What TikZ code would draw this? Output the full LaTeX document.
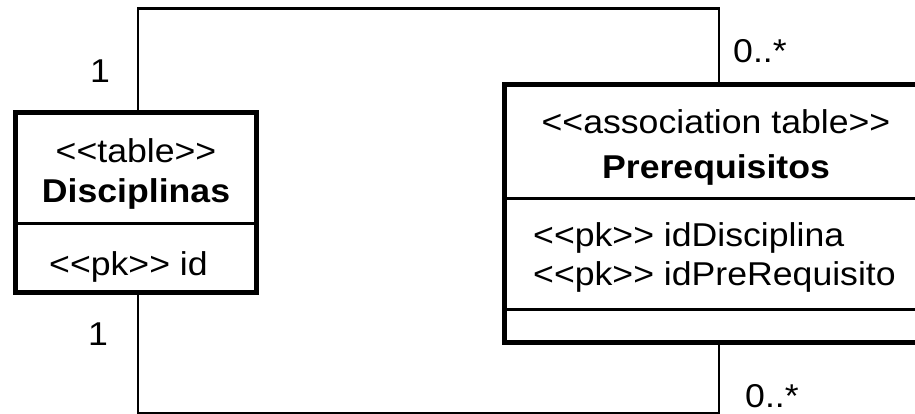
\documentclass[tikz,border=0pt]{standalone}
\usepackage{fontspec}
\setmainfont{Liberation Sans}[FakeStretch=1.08]
\newcommand\lqq{<\kern0pt<}
\newcommand\rqq{>\kern0pt>}
\begin{document}
\begin{tikzpicture}[x=1pt,y=-1pt,
  box/.style={draw, line width=5pt, rectangle, inner sep=0pt},
  divline/.style={line width=3pt},
  conn/.style={line width=2.5pt},
  txt/.style={font=\fontsize{33}{40}\selectfont, inner sep=0pt},
  btxt/.style={font=\fontsize{33}{40}\selectfont\bfseries, inner sep=0pt}]
\useasboundingbox (0,0) rectangle (915,413);
\clip (0,0) rectangle (915,413);
% boxes
\node[box, minimum width=241pt, minimum height=180pt] (disc) at (136,202.5) {};
\node[box, minimum width=423pt, minimum height=258pt] (prer) at (716,213.5) {};
% dividers
\draw[divline] (disc.west |- 0,223.5) -- (disc.east |- 0,223.5);
\draw[divline] (prer.west |- 0,198) -- (prer.east |- 0,198);
\draw[divline] (prer.west |- 0,309) -- (prer.east |- 0,309);
% texts of Disciplinas
\node[txt, anchor=base] (dst) at (136,162) {\lqq table\rqq};
\node[btxt, anchor=base] (dname) at (136,202) {Disciplinas};
\node[txt, anchor=base west] (dpk) at (49,275) {\lqq pk\rqq{} id};
% texts of Prerequisitos
\node[txt, anchor=base] (pst) at (716,133) {\lqq association table\rqq};
\node[btxt, anchor=base] (pname) at (716,178) {Prerequisitos};
\node[txt, anchor=base west] (ppk1) at (533,246) {\lqq pk\rqq{} idDisciplina};
\node[txt, anchor=base west] (ppk2) at (533,285) {\lqq pk\rqq{} idPreRequisito};
% connectors
\draw[conn] ([xshift=2pt]disc.north) -- ++(0,-101.5) -| ([xshift=3pt]prer.north);
\draw[conn] ([xshift=2pt]disc.south) -- ++(0,118.5) -| ([xshift=3pt]prer.south);
% multiplicities
\node[txt, anchor=base] (m1) at (100,82) {1};
\node[txt, anchor=base] (m2) at (98,345) {1};
\node[txt, anchor=base west] (m3) at (733,62) {0..*};
\node[txt, anchor=base west] (m4) at (745,407) {0..*};
\end{tikzpicture}
\end{document}
